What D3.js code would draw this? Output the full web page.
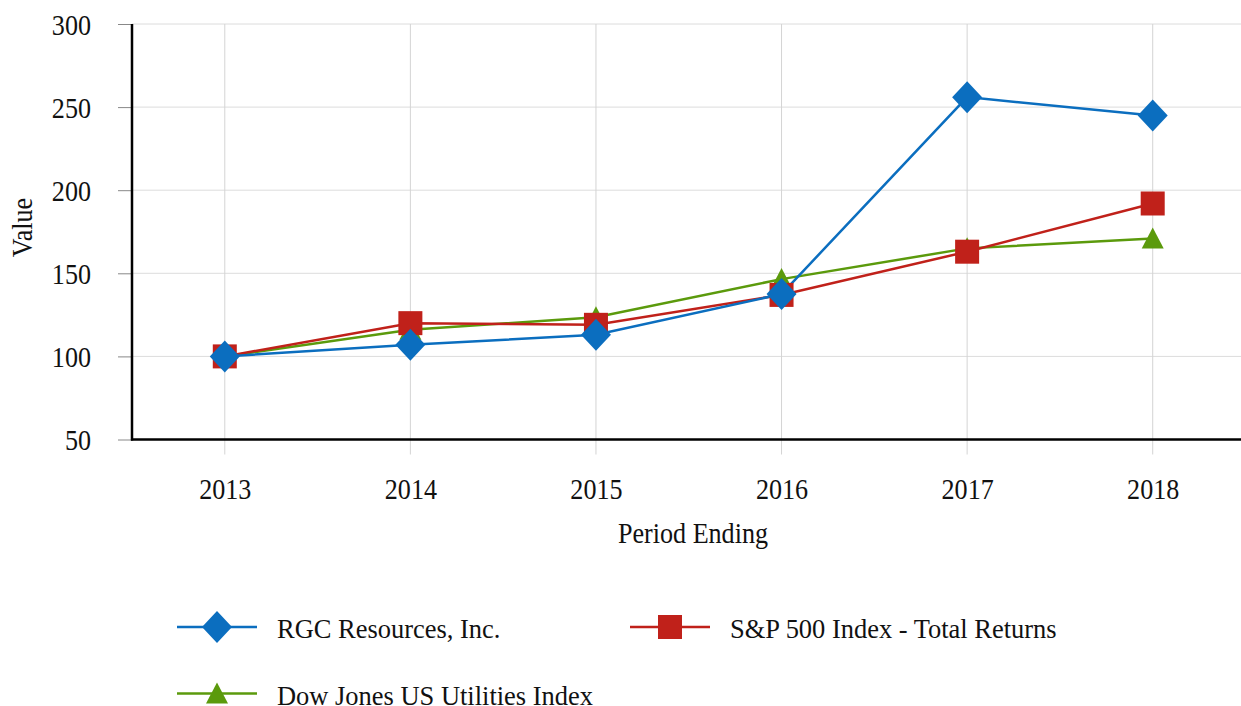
<!DOCTYPE html>
<html><head><meta charset="utf-8">
<script src="https://cdn.jsdelivr.net/npm/d3@7"></script>
<style>
html,body{margin:0;padding:0;background:#fff;}
svg text{font-family:'Liberation Serif','Times New Roman',Times,serif !important;fill:#111;}
</style></head>
<body><svg id="c" width="1241" height="706"></svg>
<script>
const years = ["2013","2014","2015","2016","2017","2018"];
const rgc = [100, 107, 113, 137.5, 256, 245];
const sp500 = [100, 120, 119, 137, 163, 192];
const djUtil = [100, 116, 123.5, 146.5, 165, 171];
const yTicks = [50, 100, 150, 200, 250, 300];
const seriesNames = ["RGC Resources, Inc.", "S&P 500 Index - Total Returns", "Dow Jones US Utilities Index"];

const series = [
  {name: seriesNames[0], values: rgc, color: "#0b6ebf", symbol: "diamond"},
  {name: seriesNames[1], values: sp500, color: "#c0211a", symbol: "square"},
  {name: seriesNames[2], values: djUtil, color: "#5b9a0c", symbol: "triangle"}
];

const FS = 29.5;   // axis font size (vertical)
const SX = 0.885;  // horizontal squeeze of axis text
const LFS = 28;    // legend font size
const LSX = 0.945; // horizontal squeeze of legend text
function stretch(sel, sx, extra) {
  sel.each(function () {
    const t = d3.select(this);
    const tx = +t.attr("x") || 0, ty = +t.attr("y") || 0;
    t.attr("x", 0).attr("y", 0)
      .attr("transform", `translate(${tx},${ty})${extra || ""} scale(${sx},1)`);
  });
}

const svg = d3.select("#c");
const L = 132, R = 1241, T = 24, B = 439.5;
const x = d3.scalePoint().domain(years).range([L, 1245.5]).padding(0.5);
const y = d3.scaleLinear().domain([50, 300]).range([B, T]);

// grid
svg.append("g").selectAll("line").data(yTicks).join("line")
  .attr("x1", L).attr("x2", R).attr("y1", d => y(d)).attr("y2", d => y(d))
  .attr("stroke", "#dcdcdc").attr("stroke-width", 1);
svg.append("g").selectAll("line").data(years).join("line")
  .attr("x1", d => x(d)).attr("x2", d => x(d)).attr("y1", T).attr("y2", B + 15)
  .attr("stroke", "#d4d4d4").attr("stroke-width", 1);

// y axis
const ya = svg.append("g").attr("transform", `translate(${L},0)`)
  .call(d3.axisLeft(y).tickValues(yTicks).tickSize(14).tickPadding(27));
ya.attr("font-family", null);
ya.select(".domain").remove();
ya.selectAll(".tick line").attr("stroke", "#888").attr("stroke-width", 1);
ya.selectAll(".tick text").attr("font-size", FS).attr("dy", "0.35em");
stretch(ya.selectAll(".tick text"), SX);

// x axis
const xa = svg.append("g").attr("transform", `translate(0,${B})`)
  .call(d3.axisBottom(x).tickSize(0).tickPadding(38.5));
xa.attr("font-family", null);
xa.select(".domain").remove();
xa.selectAll(".tick text").attr("font-size", FS);
stretch(xa.selectAll(".tick text"), SX);

// axis lines
svg.append("line").attr("x1", L).attr("x2", L).attr("y1", T).attr("y2", B + 1)
  .attr("stroke", "#000").attr("stroke-width", 2.5);
svg.append("line").attr("x1", L - 1).attr("x2", R).attr("y1", B).attr("y2", B)
  .attr("stroke", "#000").attr("stroke-width", 2.5);

// titles
stretch(svg.append("text").attr("x", 693).attr("y", 542.5).attr("text-anchor", "middle")
  .attr("font-size", FS).text("Period Ending"), SX);
stretch(svg.append("text").attr("x", 31.5).attr("y", 227.5)
  .attr("text-anchor", "middle").attr("font-size", FS).text("Value"), SX, " rotate(-90)");

function marker(g, sym, color) {
  if (sym === "diamond") {
    g.append("path").attr("d", "M0,-16L15,0L0,16L-15,0Z").attr("fill", color);
  } else if (sym === "square") {
    g.append("rect").attr("x", -12).attr("y", -12).attr("width", 24).attr("height", 24).attr("fill", color);
  } else {
    g.append("path").attr("d", "M0,-11L11,10L-11,10Z").attr("fill", color);
  }
}

const line = d3.line().x((d, i) => x(years[i])).y(d => y(d));
const order = [2, 1, 0];
order.forEach(k => {
  const s = series[k];
  svg.append("path").datum(s.values).attr("d", line).attr("fill", "none")
    .attr("stroke", s.color).attr("stroke-width", 2.5);
});
order.forEach(k => {
  const s = series[k];
  s.values.forEach((v, i) => {
    const g = svg.append("g").attr("transform", `translate(${x(years[i])},${y(v)})`);
    marker(g, s.symbol, s.color);
  });
});

// legend
const legendPos = [[177, 627], [630, 627], [177, 693.5]];
series.forEach((s, k) => {
  const [lx, ly] = legendPos[k];
  const g = svg.append("g").attr("transform", `translate(${lx},${ly})`);
  g.append("line").attr("x1", 0).attr("x2", 80).attr("y1", 0).attr("y2", 0)
    .attr("stroke", s.color).attr("stroke-width", 2.5);
  const m = g.append("g").attr("transform", "translate(40,0)");
  marker(m, s.symbol, s.color);
  stretch(g.append("text").attr("x", 100).attr("y", 0).attr("dy", "0.4em")
    .attr("font-size", LFS).text(s.name), LSX);
});
</script></body></html>
